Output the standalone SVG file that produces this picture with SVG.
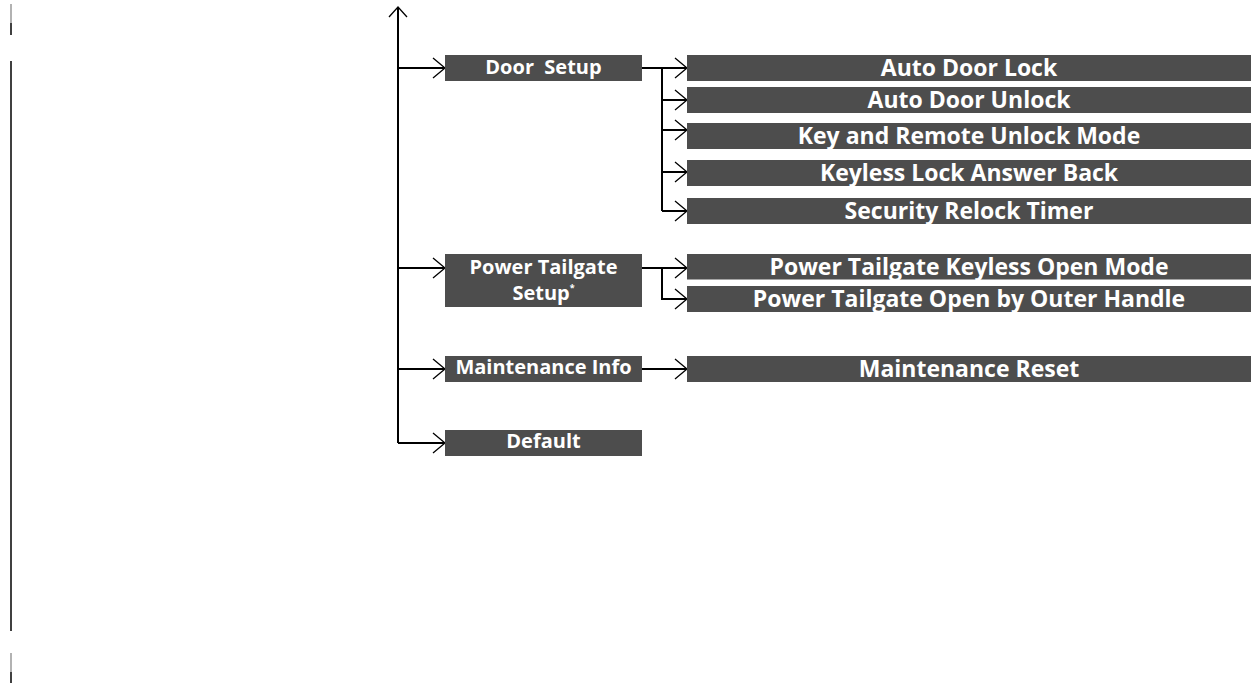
<svg xmlns="http://www.w3.org/2000/svg" width="1254" height="683" viewBox="0 0 1254 683">
  <style>
    .box { fill: #4d4d4d; }
    .lbl { fill: #ffffff; font-family: "Open Sans", "DejaVu Sans", sans-serif; font-weight: 700; text-anchor: middle; }
    .main { font-size: 20px; }
    .sub { font-size: 23px; }
    .wire { fill: none; stroke: #000; stroke-width: 2; }
    .head { fill: none; stroke: #000; stroke-width: 1.3; }
    .rule { stroke: #000; stroke-width: 1.5; }
  </style>

  <!-- margin rule on the left -->
  <g id="margin">
    <line class="rule" x1="11" y1="4" x2="11" y2="23" style="stroke:#999"/>
    <line class="rule" x1="11" y1="23" x2="11" y2="35"/>
    <line class="rule" x1="11" y1="61" x2="11" y2="631"/>
    <line class="rule" x1="11" y1="653" x2="11" y2="672" style="stroke:#999"/>
    <line class="rule" x1="11" y1="672" x2="11" y2="683"/>
  </g>

  <!-- connectors -->
  <g id="connectors">
    <!-- trunk -->
    <path class="wire" d="M398 8 V443"/>
    <path class="head" d="M389 17 L398 7 L407 17"/>
    <!-- trunk to menu items -->
    <path class="wire" d="M398 68 H444 M398 268 H444 M398 369 H444 M398 443 H444"/>
    <path class="head" d="M433 58 L445 68 L433 78 M433 258 L445 268 L433 278 M433 359 L445 369 L433 379 M433 433 L445 443 L433 453"/>
    <!-- Door Setup branch -->
    <path class="wire" d="M642 68 H686 M662 68 V211 M662 100 H686 M662 130 H686 M662 172 H686 M662 211 H686"/>
    <path class="head" d="M675 58 L687 68 L675 78 M675 90 L687 100 L675 110 M675 120 L687 130 L675 140 M675 162 L687 172 L675 182 M675 201 L687 211 L675 221"/>
    <!-- Power Tailgate branch -->
    <path class="wire" d="M642 268 H686 M662 268 V299 H686"/>
    <path class="head" d="M675 258 L687 268 L675 278 M675 289 L687 299 L675 309"/>
    <!-- Maintenance branch -->
    <path class="wire" d="M642 369 H686"/>
    <path class="head" d="M675 359 L687 369 L675 379"/>
  </g>

  <g id="door-setup">
    <rect class="box" x="445" y="55" width="197" height="26"/>
    <text class="lbl main" x="543.5" y="73.5" xml:space="preserve">Door  Setup</text>
  </g>
  <g id="power-tailgate-setup">
    <rect class="box" x="445" y="254" width="197" height="53"/>
    <text class="lbl main" x="543.5" y="273.5">Power Tailgate</text>
    <text class="lbl main" x="543.5" y="299.5">Setup<tspan font-size="9" dy="-9">*</tspan></text>
  </g>
  <g id="maintenance-info">
    <rect class="box" x="445" y="356" width="197" height="26"/>
    <text class="lbl main" x="543.5" y="374">Maintenance Info</text>
  </g>
  <g id="default">
    <rect class="box" x="445" y="430" width="197" height="26"/>
    <text class="lbl main" x="543.5" y="447.5">Default</text>
  </g>

  <g id="auto-door-lock">
    <rect class="box" x="687" y="55" width="564" height="26"/>
    <text class="lbl sub" x="969" y="76">Auto Door Lock</text>
  </g>
  <g id="auto-door-unlock">
    <rect class="box" x="687" y="87" width="564" height="26"/>
    <text class="lbl sub" x="969" y="108">Auto Door Unlock</text>
  </g>
  <g id="key-remote-unlock-mode">
    <rect class="box" x="687" y="123" width="564" height="26"/>
    <text class="lbl sub" x="969" y="144">Key and Remote Unlock Mode</text>
  </g>
  <g id="keyless-lock-answer-back">
    <rect class="box" x="687" y="160" width="564" height="26"/>
    <text class="lbl sub" x="969" y="181">Keyless Lock Answer Back</text>
  </g>
  <g id="security-relock-timer">
    <rect class="box" x="687" y="198" width="564" height="26"/>
    <text class="lbl sub" x="969" y="219">Security Relock Timer</text>
  </g>
  <g id="tailgate-keyless-open">
    <rect class="box" x="687" y="254" width="564" height="25.5"/>
    <text class="lbl sub" x="969" y="275">Power Tailgate Keyless Open Mode</text>
  </g>
  <g id="tailgate-outer-handle">
    <rect class="box" x="687" y="286" width="564" height="26"/>
    <text class="lbl sub" x="969" y="307">Power Tailgate Open by Outer Handle</text>
  </g>
  <g id="maintenance-reset">
    <rect class="box" x="687" y="356" width="564" height="26"/>
    <text class="lbl sub" x="969" y="376.5">Maintenance Reset</text>
  </g>
</svg>
